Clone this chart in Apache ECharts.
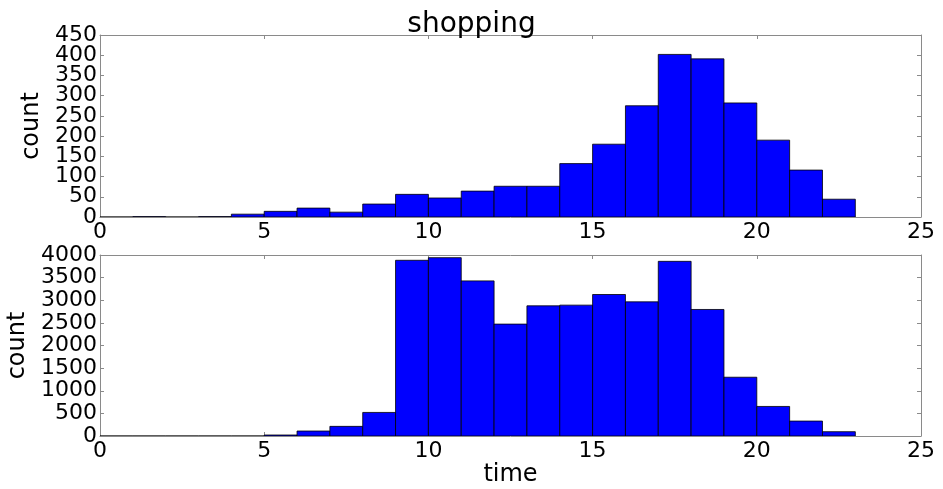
<!DOCTYPE html>
<html>
<head>
<meta charset="utf-8">
<script src="https://cdn.jsdelivr.net/npm/echarts@6/dist/echarts.min.js"></script>
<style>
  html, body { margin: 0; padding: 0; background: #fff; }
  #chart { width: 943px; height: 489px; }
</style>
</head>
<body>
<div id="chart"></div>
<script>
// Hour-of-day histograms, one-hour bins starting at 0
const binStarts = [0, 1, 2, 3, 4, 5, 6, 7, 8, 9, 10, 11, 12, 13, 14, 15, 16, 17, 18, 19, 20, 21, 22];
const binWidth = 1;
const shoppingCounts = [0, 1, 0, 1, 7, 14, 22, 12, 32, 56, 47, 64, 76, 76, 132, 180, 275, 402, 391, 282, 190, 116, 44];
const allCounts = [0, 0, 0, 0, 0, 22, 110, 213, 521, 3883, 3941, 3428, 2473, 2877, 2892, 3127, 2965, 3860, 2796, 1299, 653, 330, 95];
const xTicks = { min: 0, max: 25, interval: 5 };
const topTicks = { min: 0, max: 450, interval: 50 };
const bottomTicks = { min: 0, max: 4000, interval: 500 };
const titleText = 'shopping';
const yName = 'count';
const xName = 'time';

const FONT = 'DejaVu Sans';
const frameColor = '#8a8a8a';

function histData(counts) {
  return binStarts.map((s, i) => [s, s + binWidth, counts[i]]);
}

function renderBin(params, api) {
  const p0 = api.coord([api.value(0), api.value(2)]);
  const p1 = api.coord([api.value(1), 0]);
  return {
    type: 'rect',
    shape: { x: p0[0], y: p0[1], width: p1[0] - p0[0], height: p1[1] - p0[1] },
    style: { fill: '#0000ff', stroke: '#000000', lineWidth: 0.8 }
  };
}

const plainLabel = v => String(v);

function xAxisPair(gridIndex, withName) {
  const common = {
    type: 'value', gridIndex,
    min: xTicks.min, max: xTicks.max, interval: xTicks.interval,
    splitLine: { show: false },
    axisLine: { show: true, onZero: false, lineStyle: { color: frameColor, width: 1 } },
    axisTick: { show: true, inside: true, length: 4, lineStyle: { color: frameColor } }
  };
  return [
    Object.assign({}, common, {
      position: 'bottom',
      axisLabel: { fontFamily: FONT, fontSize: 22, color: '#000', margin: 4,
        formatter: plainLabel, showMinLabel: true, showMaxLabel: true, hideOverlap: false },
      name: withName ? xName : '',
      nameLocation: 'middle', nameGap: 20,
      nameTextStyle: { fontFamily: FONT, fontSize: 24, color: '#000' }
    }),
    Object.assign({}, common, { position: 'top', axisLabel: { show: false } })
  ];
}

// The count labels sit closer together than their text height, so the even and
// odd tick labels go on two stacked left axes to keep every one of them drawn.
function yAxisSet(gridIndex, ticks, gap) {
  const common = {
    type: 'value', gridIndex,
    min: ticks.min, max: ticks.max, interval: ticks.interval,
    splitLine: { show: false },
    axisLine: { show: true, onZero: false, lineStyle: { color: frameColor, width: 1 } },
    axisTick: { show: true, inside: true, length: 4, lineStyle: { color: frameColor } }
  };
  const labelStyle = { fontFamily: FONT, fontSize: 22, color: '#000', margin: 3,
    showMinLabel: true, showMaxLabel: true, hideOverlap: false };
  const step = ticks.interval * 2;
  return [
    Object.assign({}, common, {
      position: 'left',
      axisLabel: Object.assign({}, labelStyle, {
        formatter: v => ((v - ticks.min) % step === 0 ? plainLabel(v) : '')
      }),
      name: yName, nameLocation: 'middle', nameGap: gap,
      nameTextStyle: { fontFamily: FONT, fontSize: 24, color: '#000' }
    }),
    Object.assign({}, common, {
      position: 'left',
      axisLine: { show: false }, axisTick: { show: false },
      axisLabel: Object.assign({}, labelStyle, {
        formatter: v => ((v - ticks.min) % step !== 0 ? plainLabel(v) : '')
      })
    }),
    Object.assign({}, common, { position: 'right', axisLabel: { show: false } })
  ];
}

const chart = echarts.init(document.getElementById('chart'), null, { renderer: 'canvas' });
chart.setOption({
  animation: false,
  backgroundColor: '#fff',
  title: {
    text: titleText, left: 'center', top: 6,
    textStyle: { fontFamily: FONT, fontSize: 28, fontWeight: 'normal', color: '#000' }
  },
  grid: [
    { left: 100, right: 22, top: 35, height: 182, containLabel: false, outerBoundsMode: 'none' },
    { left: 100, right: 22, top: 255, height: 181, containLabel: false, outerBoundsMode: 'none' }
  ],
  xAxis: [...xAxisPair(0, false), ...xAxisPair(1, true)],
  yAxis: [...yAxisSet(0, topTicks, 49), ...yAxisSet(1, bottomTicks, 66)],
  series: [
    { type: 'custom', xAxisIndex: 0, yAxisIndex: 0, renderItem: renderBin,
      encode: { x: [0, 1], y: 2 }, data: histData(shoppingCounts), clip: true },
    { type: 'custom', xAxisIndex: 2, yAxisIndex: 3, renderItem: renderBin,
      encode: { x: [0, 1], y: 2 }, data: histData(allCounts), clip: true }
  ]
});
</script>
</body>
</html>
